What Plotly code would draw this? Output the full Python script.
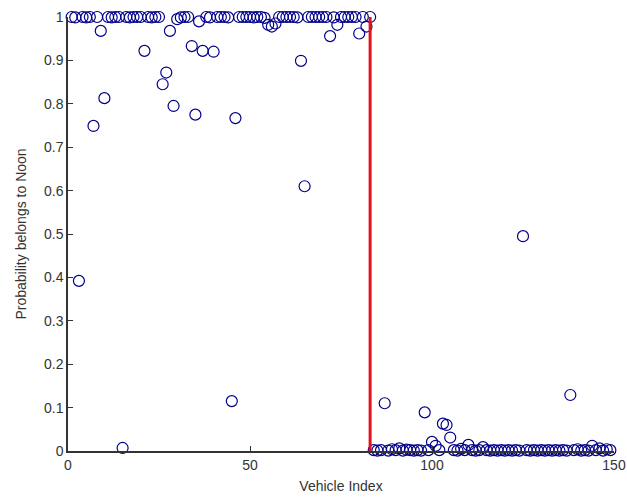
import plotly.graph_objects as go

# Group 1 (vehicles 1..83) probabilities
noon_idx = list(range(1, 84))
noon_prob = [1.0, 0.999, 0.392, 1.0, 0.999, 1.0, 0.749, 1.0, 0.968, 0.813,
             1.0, 0.999, 1.0, 1.0, 0.007, 1.0, 0.999, 1.0, 1.0, 1.0,
             0.922, 1.0, 0.999, 1.0, 1.0, 0.845, 0.872, 0.968, 0.795, 0.995,
             0.999, 1.0, 1.0, 0.933, 0.775, 0.99, 0.922, 1.0, 0.999, 0.92,
             1.0, 1.0, 1.0, 0.999, 0.115, 0.767, 1.0, 1.0, 1.0, 1.0,
             0.999, 1.0, 1.0, 0.998, 0.982, 0.978, 0.985, 1.0, 1.0, 1.0,
             1.0, 1.0, 0.999, 0.899, 0.61, 1.0, 1.0, 1.0, 1.0, 1.0,
             1.0, 0.956, 0.999, 0.982, 1.0, 1.0, 1.0, 1.0, 1.0, 0.962,
             1.0, 0.978, 1.0]

# Group 2 (vehicles 84..149) probabilities
other_idx = list(range(84, 150))
other_prob = [0.002, 0.001, 0.002, 0.11, 0.001, 0.004, 0.002, 0.006, 0.001, 0.003,
              0.002, 0.001, 0.002, 0.001, 0.089, 0.002, 0.021, 0.012, 0.002, 0.063,
              0.06, 0.031, 0.002, 0.001, 0.005, 0.002, 0.014, 0.002, 0.001, 0.002,
              0.009, 0.002, 0.001, 0.002, 0.001, 0.002, 0.001, 0.002, 0.001, 0.002,
              0.001, 0.495, 0.002, 0.001, 0.002, 0.001, 0.002, 0.001, 0.002, 0.001,
              0.002, 0.001, 0.002, 0.001, 0.129, 0.002, 0.004, 0.001, 0.002, 0.001,
              0.012, 0.002, 0.006, 0.001, 0.004, 0.002]

x_all = noon_idx + other_idx
y_all = noon_prob + other_prob

split_x = 83
x_ticks = [0, 50, 100, 150]
y_ticks = [0, 0.1, 0.2, 0.3, 0.4, 0.5, 0.6, 0.7, 0.8, 0.9, 1]
y_tick_text = ["0", "0.1", "0.2", "0.3", "0.4", "0.5", "0.6", "0.7", "0.8", "0.9", "1"]

fig = go.Figure()
fig.add_trace(go.Scatter(
    x=x_all, y=y_all, mode="markers", cliponaxis=False,
    marker=dict(symbol="circle-open", size=11, color="#00008B", line=dict(width=1.2)),
    showlegend=False,
))
fig.add_shape(type="line", xref="x", yref="y", x0=split_x, x1=split_x, y0=0, y1=1,
              line=dict(color="#E3111B", width=3), layer="above")

axis_font = dict(family="Liberation Sans, Arial, sans-serif", size=13, color="#333333")
fig.update_layout(
    width=627, height=497,
    margin=dict(l=68, r=13, t=17, b=46),
    paper_bgcolor="white", plot_bgcolor="white",
    font=axis_font,
    xaxis=dict(range=[0, 150], tickvals=x_ticks, ticks="inside", ticklen=5, tickcolor="#333333",
               showline=True, linecolor="#333333", linewidth=1.5, showgrid=False, zeroline=False,
               ticklabeloverflow="allow", automargin=False,
               tickfont=dict(size=14, color="#333333"),
               title=dict(text="Vehicle Index", font=dict(size=14, color="#333333"), standoff=10)),
    yaxis=dict(range=[0, 1], tickvals=y_ticks, ticktext=y_tick_text, ticks="inside", ticklen=5,
               tickcolor="#333333", showline=True, linecolor="#333333", linewidth=1.5,
               showgrid=False, zeroline=False, automargin=False, tickfont=dict(size=14, color="#333333"),
               title=dict(text="Probability belongs to Noon", font=dict(size=14, color="#333333"), standoff=14)),
)

fig.write_html("out.html")
